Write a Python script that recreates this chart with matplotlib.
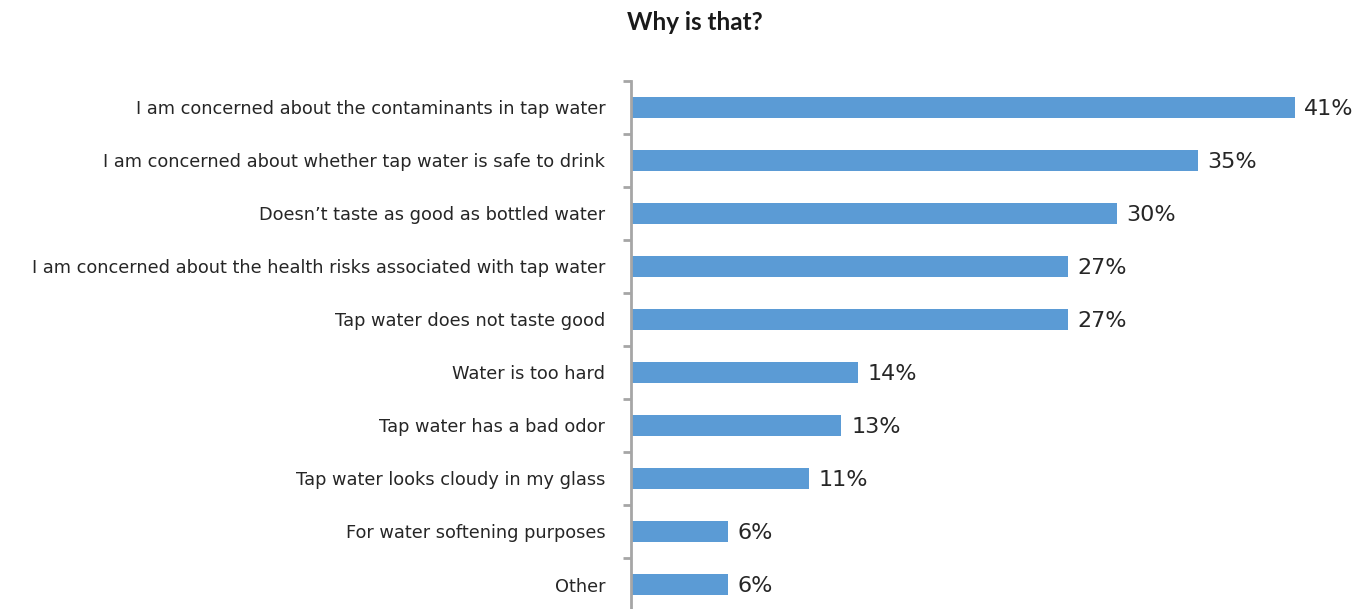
import matplotlib.pyplot as plt
import numpy as np

categories = [
    "I am concerned about the contaminants in tap water",
    "I am concerned about whether tap water is safe to drink",
    "Doesn\u2019t taste as good as bottled water",
    "I am concerned about the health risks associated with tap water",
    "Tap water does not taste good",
    "Water is too hard",
    "Tap water has a bad odor",
    "Tap water looks cloudy in my glass",
    "For water softening purposes",
    "Other",
]
values = [41, 35, 30, 27, 27, 14, 13, 11, 6, 6]
value_labels = ["41%", "35%", "30%", "27%", "27%", "14%", "13%", "11%", "6%", "6%"]

bar_color = "#5b9bd5"
text_color = "#262626"
axis_color = "#a6a6a6"

fig = plt.figure(figsize=(13.61, 6.09), dpi=100)
# axes placed so that the category bands line up with the reference
ax = fig.add_axes([631 / 1361, -2 / 609, 730 / 1361, 530 / 609])

n = len(categories)
y = np.arange(n)
ax.barh(y, values, height=0.41, color=bar_color, zorder=2)
ax.set_ylim(n - 0.5, -0.5)
ax.set_xlim(0, 45.1)

for yi, v, lab in zip(y, values, value_labels):
    ax.text(v + 0.6, yi + 0.03, lab, va="center", ha="left", fontsize=16,
            color=text_color, family="DejaVu Sans")

ax.set_yticks(y)
ax.set_yticklabels(categories, fontsize=12.8, color=text_color)
ax.tick_params(axis="y", length=0, pad=18.5)
# minor ticks at the band boundaries
ax.set_yticks(np.arange(n + 1) - 0.5, minor=True)
ax.tick_params(axis="y", which="minor", length=6, width=2, color=axis_color)

ax.set_xticks([])
for side in ["top", "right", "bottom"]:
    ax.spines[side].set_visible(False)
ax.spines["left"].set_color(axis_color)
ax.spines["left"].set_linewidth(2)

fig.text(695 / 1361, 1 - 22 / 609, "Why is that?", ha="center", va="center",
         fontsize=17.5, fontweight="bold", family="Lato", color="#1a1a1a")

fig.savefig("out.png", dpi=100)
